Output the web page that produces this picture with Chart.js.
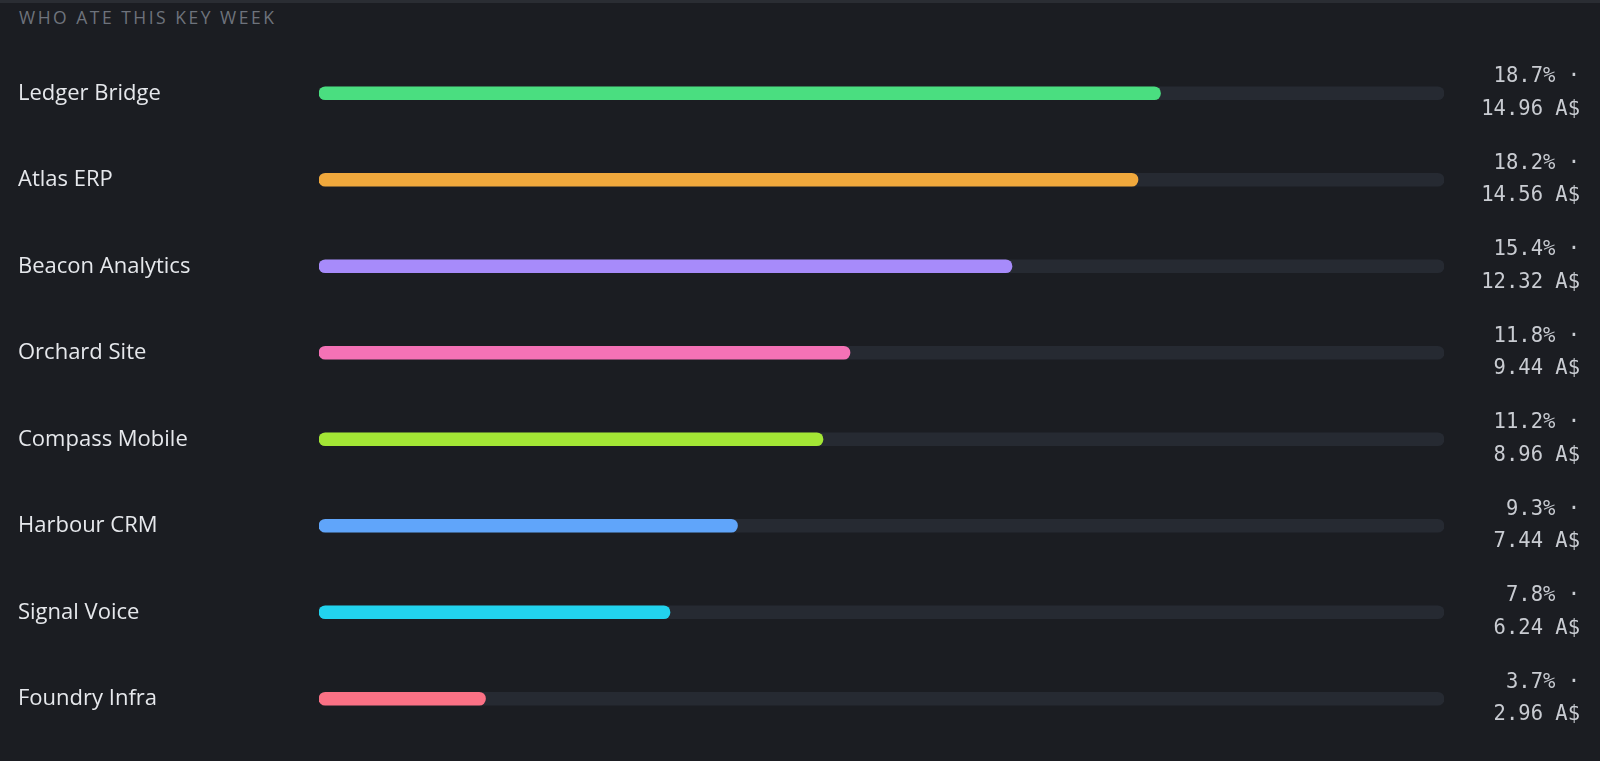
<!DOCTYPE html>
<html>
<head>
<meta charset="utf-8">
<script src="https://cdn.jsdelivr.net/npm/chart.js@4/dist/chart.umd.min.js"></script>
<style>
  html, body { margin: 0; padding: 0; background: #1b1d22; width: 1600px; height: 761px; overflow: hidden; }
  #wrap { position: relative; width: 1600px; height: 761px; border-top: 3px solid #2a2d33; box-sizing: border-box; }
  #title { position: absolute; left: 19px; top: 2px; font-family: "Open Sans", "Noto Sans", sans-serif; font-size: 17.5px; letter-spacing: 2.5px; color: #6e737c; }
  #c { position: absolute; left: 0; top: -3px; }
</style>
</head>
<body>
<div id="wrap">
  <div id="title">WHO ATE THIS KEY WEEK</div>
  <canvas id="c" width="1600" height="761"></canvas>
</div>
<script>
const categories = ["Ledger Bridge", "Atlas ERP", "Beacon Analytics", "Orchard Site", "Compass Mobile", "Harbour CRM", "Signal Voice", "Foundry Infra"];
const shares = [18.7, 18.2, 15.4, 11.8, 11.2, 9.3, 7.8, 3.7];
const amounts = [14.96, 14.56, 12.32, 9.44, 8.96, 7.44, 6.24, 2.96];
const currency = "A$";
const scaleMax = 25;
const barColors = ["#4ade80", "#f0a83c", "#a78bfa", "#f472b6", "#a3e635", "#60a5fa", "#22d3ee", "#fb7185"];

const valueLabels = shares.map((s, i) => [s.toFixed(1) + "% ·", amounts[i].toFixed(2) + " " + currency]);
const trackValues = categories.map(() => scaleMax);

function zeroPad(scale, w) {
  scale.width = w;
  scale.paddingTop = 0;
  scale.paddingBottom = 0;
}

new Chart(document.getElementById("c"), {
  type: "bar",
  data: {
    labels: categories,
    datasets: [
      { data: shares, backgroundColor: barColors, borderRadius: 7, borderSkipped: false, barThickness: 13, order: 1, yAxisID: "y" },
      { data: trackValues, backgroundColor: "#262a32", borderRadius: 7, borderSkipped: false, barThickness: 13, order: 2, yAxisID: "y" }
    ]
  },
  options: {
    indexAxis: "y",
    responsive: false,
    animation: false,
    devicePixelRatio: 1,
    layout: { padding: { left: 18, right: 20, top: 50, bottom: 19 } },
    datasets: { bar: { grouped: false } },
    plugins: { legend: { display: false }, tooltip: { enabled: false } },
    scales: {
      x: { display: false, min: 0, max: scaleMax },
      y: {
        position: "left",
        grid: { display: false, drawTicks: false },
        border: { display: false },
        ticks: { crossAlign: "far", color: "#e6e8ec", padding: 0, font: { family: "'Open Sans', 'Noto Sans', sans-serif", size: 22 } },
        afterFit(scale) { zeroPad(scale, 301); }
      },
      y2: {
        type: "category",
        position: "right",
        labels: valueLabels,
        offset: true,
        grid: { display: false, drawTicks: false },
        border: { display: false },
        ticks: { crossAlign: "far", color: "#c9ccd2", padding: 0, font: { family: "'DejaVu Sans Mono', monospace", size: 20.5, lineHeight: 1.6 } },
        afterFit(scale) { zeroPad(scale, 136); }
      }
    }
  }
});
</script>
</body>
</html>
